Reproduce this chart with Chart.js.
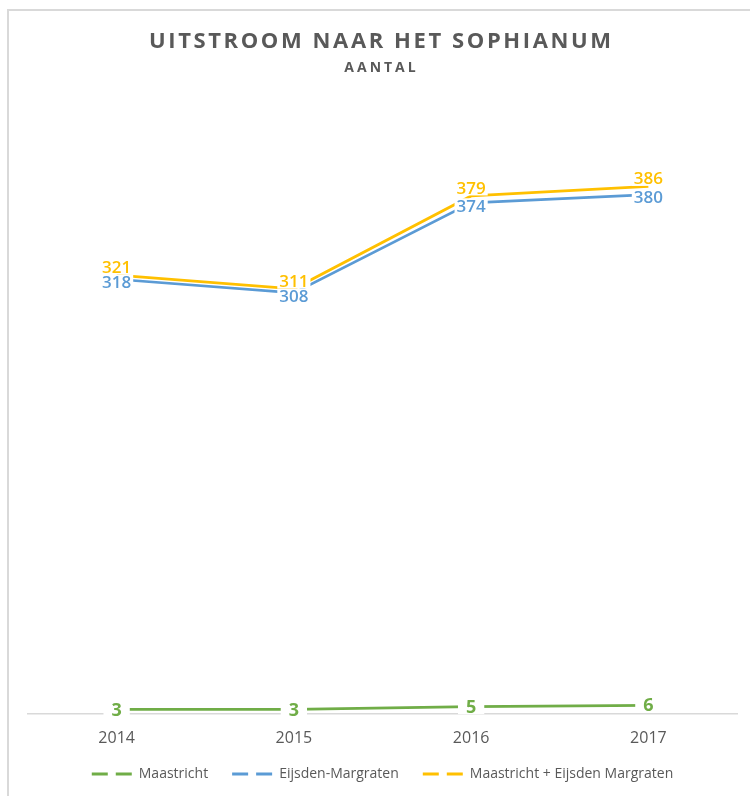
<!DOCTYPE html>
<html>
<head>
<meta charset="utf-8">
<script src="https://cdn.jsdelivr.net/npm/chart.js@4.4.1/dist/chart.umd.min.js"></script>
<style>
  html, body { margin: 0; padding: 0; background: #fff; }
</style>
</head>
<body>
<canvas id="grafiek" width="750" height="796"></canvas>
<script>
// Gegevens
const jaren = ['2014', '2015', '2016', '2017'];
const maastricht = [3, 3, 5, 6];
const eijsdenMargraten = [318, 308, 374, 380];
const totaal = [321, 311, 379, 386];
const titel = 'UITSTROOM NAAR HET SOPHIANUM';
const subtitel = 'AANTAL';

const grijs = '#595959';
const lijnGrijs = '#D9D9D9';

// Rand links/boven + titel
const kaderEnTitel = {
  id: 'kaderEnTitel',
  beforeDraw(chart) {
    const ctx = chart.ctx;
    ctx.save();
    ctx.strokeStyle = lijnGrijs;
    ctx.lineWidth = 2;
    ctx.beginPath();
    ctx.moveTo(8, 796);
    ctx.lineTo(8, 10);
    ctx.lineTo(750, 10);
    ctx.stroke();
    ctx.restore();
  },
  afterDraw(chart) {
    const ctx = chart.ctx;
    ctx.save();
    ctx.fillStyle = grijs;
    ctx.textAlign = 'center';
    ctx.textBaseline = 'middle';
    ctx.letterSpacing = '2.6px';
    ctx.font = "bold 22px 'Open Sans'";
    ctx.fillText(titel, 381.3, 42);
    ctx.letterSpacing = '3px';
    ctx.font = "bold 14px 'Open Sans'";
    ctx.fillText(subtitel, 381.5, 68);
    ctx.restore();
  }
};

// Waardelabels met witte achtergrond
const waardeLabels = {
  id: 'waardeLabels',
  afterDatasetsDraw(chart) {
    const ctx = chart.ctx;
    [0, 2, 1].forEach(i => {
      const ds = chart.data.datasets[i];
      const meta = chart.getDatasetMeta(i);
      ctx.save();
      ctx.font = ds.labelFont;
      ctx.textAlign = 'center';
      ctx.textBaseline = 'middle';
      meta.data.forEach((pt, j) => {
        const txt = String(ds.data[j]);
        const w = ctx.measureText(txt).width;
        const y = pt.y + ds.labelShift;
        ctx.fillStyle = '#fff';
        ctx.fillRect(pt.x - w / 2 - ds.labelPad, y - 7.5, w + ds.labelPad * 2, 15);
        ctx.fillStyle = ds.borderColor;
        ctx.fillText(txt, pt.x, y + 1);
      });
      ctx.restore();
    });
  }
};

const ctx = document.getElementById('grafiek').getContext('2d');
new Chart(ctx, {
  type: 'line',
  data: {
    labels: jaren,
    datasets: [
      {
        label: 'Maastricht',
        data: maastricht,
        borderColor: '#70AD47',
        labelFont: "bold 18px 'Open Sans'",
        labelShift: 0,
        labelPad: 8
      },
      {
        label: 'Eijsden-Margraten',
        data: eijsdenMargraten,
        borderColor: '#5B9BD5',
        labelFont: "600 17px 'Open Sans'",
        labelShift: 3,
        labelPad: 2
      },
      {
        label: 'Maastricht + Eijsden Margraten',
        data: totaal,
        borderColor: '#FFC000',
        labelFont: "600 17px 'Open Sans'",
        labelShift: -8,
        labelPad: 2
      }
    ]
  },
  options: {
    responsive: false,
    animation: false,
    elements: {
      line: { borderWidth: 2.75, tension: 0 },
      point: { radius: 0, hoverRadius: 0 }
    },
    layout: { padding: { left: 28, right: 13, top: 99, bottom: 5 } },
    scales: {
      x: {
        offset: true,
        grid: { display: false, drawTicks: false },
        border: { display: true, color: lijnGrijs, width: 1.5 },
        ticks: { color: grijs, padding: 15, font: { family: "'Open Sans'", size: 16 } },
        afterFit(as) { as.height = 29.5; }
      },
      y: { display: false, min: 0, max: 450 }
    },
    plugins: {
      title: { display: false },
      tooltip: { enabled: false },
      legend: {
        position: 'bottom',
        labels: {
          color: grijs,
          font: { family: "'Open Sans'", size: 14 },
          usePointStyle: true,
          pointStyle: 'line',
          pointStyleWidth: 40,
          padding: 24,
          generateLabels(chart) {
            const items = Chart.defaults.plugins.legend.labels.generateLabels(chart);
            items.forEach(it => { it.lineDash = [16, 8]; it.lineWidth = 3; it.pointStyle = 'line'; });
            return items;
          }
        }
      }
    }
  },
  plugins: [kaderEnTitel, waardeLabels]
});
</script>
</body>
</html>
